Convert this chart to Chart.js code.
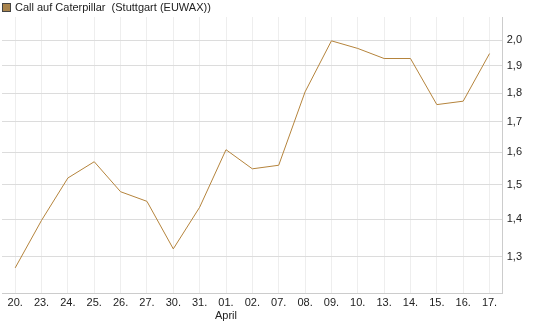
<!DOCTYPE html>
<html>
<head>
<meta charset="utf-8">
<script src="https://cdn.jsdelivr.net/npm/chart.js@4/dist/chart.umd.min.js"></script>
<style>
  html, body { margin: 0; padding: 0; background: #fff; }
  #wrap { position: relative; width: 545px; height: 327px; }
  #legend {
    position: absolute; left: 2px; top: 1px;
    font: 11px 'Liberation Sans', Arial, sans-serif; color: #222;
    line-height: 13px; white-space: pre;
  }
  #legend .box {
    display: inline-block; width: 7px; height: 7px; margin-right: 4px;
    background: #a9844d; border: 1px solid #444; vertical-align: -1px;
  }
</style>
</head>
<body>
<div id="wrap">
  <div id="legend"></div>
  <canvas id="chart" width="545" height="327"></canvas>
</div>
<script>
const LINE_COLOR = '#b5843c';
const GRID_H = '#dcdcdc';
const GRID_V = '#eeeeee';

const seriesName = 'Call auf Caterpillar  (Stuttgart (EUWAX))';
const dayLabels = ['20.', '23.', '24.', '25.', '26.', '27.', '30.', '31.', ['01.', 'April'], '02.',
  '07.', '08.', '09.', '10.', '13.', '14.', '15.', '16.', '17.'];
const prices = [1.271, 1.397, 1.520, 1.570, 1.479, 1.451, 1.320, 1.434, 1.608, 1.548,
  1.559, 1.804, 1.997, 1.967, 1.928, 1.928, 1.759, 1.771, 1.947];
const yTicks = [1.3, 1.4, 1.5, 1.6, 1.7, 1.8, 1.9, 2.0];

const legendEl = document.getElementById('legend');
const box = document.createElement('span');
box.className = 'box';
legendEl.appendChild(box);
legendEl.appendChild(document.createTextNode(seriesName));

const ctx = document.getElementById('chart').getContext('2d');
new Chart(ctx, {
  type: 'line',
  data: {
    labels: dayLabels,
    datasets: [{
      label: seriesName,
      data: prices,
      borderColor: LINE_COLOR,
      borderWidth: 1,
      pointRadius: 0,
      tension: 0,
      fill: false,
    }],
  },
  options: {
    responsive: false,
    animation: false,
    layout: { padding: { left: 2, right: 19, top: 17, bottom: 1 } },
    plugins: {
      legend: { display: false },
      tooltip: { enabled: false },
    },
    scales: {
      x: {
        offset: true,
        grid: { color: GRID_V, drawTicks: false, offset: false },
        border: { color: '#cccccc' },
        ticks: {
          color: '#222',
          padding: 3,
          maxRotation: 0,
          autoSkip: false,
          font: { family: 'Liberation Sans, Arial', size: 11 },
        },
      },
      y: {
        type: 'logarithmic',
        position: 'right',
        min: 1.2076,
        max: 2.094,
        afterBuildTicks: scale => { scale.ticks = yTicks.map(v => ({ value: v })); },
        grid: { color: GRID_H, drawTicks: false },
        border: { color: '#cccccc' },
        ticks: {
          color: '#222',
          padding: 4,
          font: { family: 'Liberation Sans, Arial', size: 11 },
          callback: v => v.toFixed(1).replace('.', ','),
        },
      },
    },
  },
});
</script>
</body>
</html>
